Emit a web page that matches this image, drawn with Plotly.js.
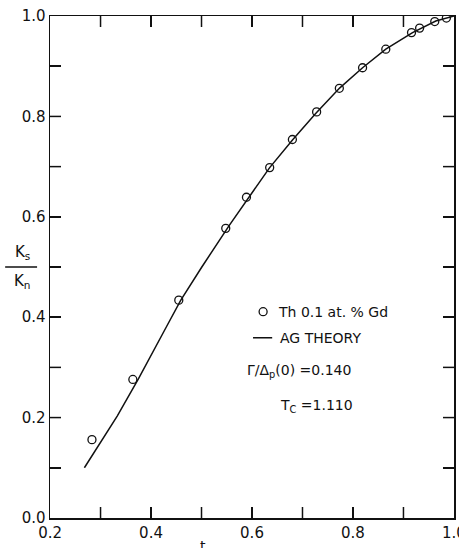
<!DOCTYPE html>
<html>
<head>
<meta charset="utf-8">
<script src="https://cdn.plot.ly/plotly-3.0.1.min.js"></script>
<style>
  html, body { margin: 0; padding: 0; background: #fff; }
  #chart { width: 459px; height: 548px; }
</style>
</head>
<body>
<div id="chart"></div>
<script>
// Measured thermal-conductivity ratio for Th with 0.1 at.% Gd
const tMeasured = [0.283, 0.364, 0.455, 0.548, 0.589, 0.635, 0.680, 0.728, 0.773, 0.819, 0.865, 0.916, 0.932, 0.962, 0.985];
const ratioMeasured = [0.156, 0.276, 0.434, 0.577, 0.639, 0.698, 0.754, 0.809, 0.856, 0.897, 0.934, 0.967, 0.976, 0.989, 0.996];

// Abrikosov-Gor'kov theory curve
const tTheory = [0.268, 0.300, 0.333, 0.375, 0.400, 0.430, 0.459, 0.500, 0.555, 0.594, 0.635, 0.681, 0.727, 0.774, 0.819, 0.865, 0.918, 0.964, 1.0];
const ratioTheory = [0.100, 0.150, 0.203, 0.277, 0.325, 0.380, 0.434, 0.499, 0.583, 0.640, 0.698, 0.754, 0.807, 0.857, 0.897, 0.934, 0.967, 0.990, 1.0];

// Axis ticks every 0.1, labelled every 0.2
const xTickVals = [0.2, 0.3, 0.4, 0.5, 0.6, 0.7, 0.8, 0.9, 1.0];
const xTickText = ['0.2', '', '0.4', '', '0.6', '', '0.8', '', '1.0'];
const yTickVals = [0.0, 0.1, 0.2, 0.3, 0.4, 0.5, 0.6, 0.7, 0.8, 0.9, 1.0];
const yTickText = ['0.0', '', '0.2', '', '0.4', '', '0.6', '', '0.8', '', '1.0'];

const ink = '#111';
const font = 'DejaVu Sans, Liberation Sans, sans-serif';
const TICK_LEN = 11;

const traces = [
  {
    x: tTheory, y: ratioTheory,
    type: 'scatter', mode: 'lines',
    line: { color: ink, width: 1.5 },
    name: 'AG THEORY', hoverinfo: 'skip'
  },
  {
    x: tMeasured, y: ratioMeasured,
    type: 'scatter', mode: 'markers',
    marker: { symbol: 'circle-open', size: 8, color: ink, line: { width: 1.3, color: ink } },
    name: 'Th 0.1 at. % Gd'
  }
];

const axisCommon = {
  showgrid: false, zeroline: false,
  showline: true, linecolor: ink, linewidth: 1.5,
  mirror: 'ticks',
  ticks: 'inside', ticklen: TICK_LEN, tickwidth: 1.5, tickcolor: ink,
  tickmode: 'array',
  ticklabeloverflow: 'allow',
  tickfont: { family: font, size: 15, color: ink }
};

// Inward tick marks on all four sides of the frame, one per interior tick value
const tickLine = { color: ink, width: 1.5 };
const frameTicks = [];
xTickVals.slice(1, -1).forEach(function (v) {
  frameTicks.push({ type: 'line', xref: 'x', yref: 'paper', ysizemode: 'pixel', yanchor: 0,
    x0: v, x1: v, y0: 0, y1: TICK_LEN, line: tickLine });
  frameTicks.push({ type: 'line', xref: 'x', yref: 'paper', ysizemode: 'pixel', yanchor: 1,
    x0: v, x1: v, y0: 0, y1: -TICK_LEN, line: tickLine });
});
yTickVals.slice(1, -1).forEach(function (v) {
  frameTicks.push({ type: 'line', xref: 'paper', yref: 'y', xsizemode: 'pixel', xanchor: 0,
    y0: v, y1: v, x0: 0, x1: TICK_LEN, line: tickLine });
  frameTicks.push({ type: 'line', xref: 'paper', yref: 'y', xsizemode: 'pixel', xanchor: 1,
    y0: v, y1: v, x0: 0, x1: -TICK_LEN, line: tickLine });
});

const textFont = { family: font, size: 14, color: ink };

const layout = {
  width: 459, height: 548,
  margin: { l: 50, r: 5, t: 16, b: 30 },
  paper_bgcolor: '#fff', plot_bgcolor: '#fff',
  showlegend: false,
  xaxis: Object.assign({}, axisCommon, {
    range: [0.1999, 1.0001], tickvals: xTickVals, ticktext: xTickText
  }),
  yaxis: Object.assign({}, axisCommon, {
    range: [-0.0001, 1.0001], tickvals: yTickVals, ticktext: yTickText
  }),
  shapes: frameTicks.concat([
    // legend symbols
    { type: 'circle', xref: 'x', yref: 'y', xsizemode: 'pixel', ysizemode: 'pixel',
      xanchor: 0.622, yanchor: 0.411, x0: -4, x1: 4, y0: -4, y1: 4,
      line: { color: ink, width: 1.3 } },
    { type: 'line', xref: 'x', yref: 'y', x0: 0.602, x1: 0.640, y0: 0.359, y1: 0.359,
      line: { color: ink, width: 1.5 } },
    // fraction bar of the y title
    { type: 'line', xref: 'paper', yref: 'y', x0: -0.111, x1: -0.032, y0: 0.5, y1: 0.5,
      line: { color: ink, width: 1.3 } }
  ]),
  annotations: [
    { xref: 'x', yref: 'y', x: 0.6475, y: 0.411, xanchor: 'left', yanchor: 'middle',
      text: 'Th 0.1 at. % Gd', showarrow: false, font: textFont },
    { xref: 'x', yref: 'y', x: 0.6515, y: 0.359, xanchor: 'left', yanchor: 'middle',
      text: 'AG THEORY', showarrow: false, font: textFont },
    { xref: 'x', yref: 'y', x: 0.586, y: 0.293, xanchor: 'left', yanchor: 'middle',
      text: 'Γ/Δ<sub>p</sub>(0) =0.140', showarrow: false, font: textFont },
    { xref: 'x', yref: 'y', x: 0.6515, y: 0.223, xanchor: 'left', yanchor: 'middle',
      text: 'T<sub>C</sub> =1.110', showarrow: false, font: textFont },
    // y title as a stacked fraction
    { xref: 'paper', yref: 'y', x: -0.068, y: 0.505, xanchor: 'center', yanchor: 'bottom',
      text: 'K<sub>s</sub>', showarrow: false, font: { family: font, size: 15, color: ink } },
    { xref: 'paper', yref: 'y', x: -0.068, y: 0.495, xanchor: 'center', yanchor: 'top',
      text: 'K<sub>n</sub>', showarrow: false, font: { family: font, size: 15, color: ink } },
    // x title
    { xref: 'paper', yref: 'paper', x: 0.379, y: -0.036, xanchor: 'center', yanchor: 'top',
      text: 't', showarrow: false, font: { family: font, size: 14, color: ink } }
  ]
};

Plotly.newPlot('chart', traces, layout, { displayModeBar: false, staticPlot: true });
</script>
</body>
</html>
